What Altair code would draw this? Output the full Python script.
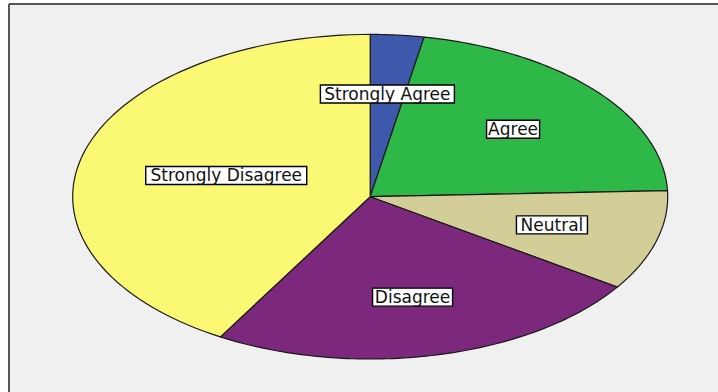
import altair as alt
import pandas as pd

# ---- data (percent of responses) ----
categories = ["Strongly Agree", "Agree", "Neutral", "Disagree", "Strongly Disagree"]
values = [2.9, 21.5, 10.0, 24.0, 41.6]
colors = ["#3E58AC", "#2EB848", "#D3CE97", "#7C287D", "#FBF873"]

df = pd.DataFrame({"cat": categories, "val": values, "ord": list(range(len(categories)))})

# ---- layout ----
PAD_L, PAD_T = 9, 4
W, H = 718 - PAD_L, 392 - PAD_T
CX, CY = 370.2 - PAD_L, 196.7 - PAD_T      # centre of the (stretched) pie inside the view
RX, RY = 297.5, 162.3                       # pixel radii
xdom = [-CX / RX, (W - CX) / RX]
ydom = [-(H - CY) / RY, CY / RY]
N = 80  # arc resolution

xs = alt.Scale(domain=xdom, nice=False, zero=False)
ys = alt.Scale(domain=ydom, nice=False, zero=False)

base = alt.Chart(df).transform_window(
    cum="sum(val)", sort=[alt.SortField("ord", order="ascending")], frame=[None, 0]
).transform_joinaggregate(
    total="sum(val)"
).transform_calculate(
    a0="(datum.cum - datum.val) / datum.total * 2 * PI",
    a1="datum.cum / datum.total * 2 * PI",
)

slices = base.transform_calculate(
    steps=f"sequence(-1, {N + 2})"
).transform_flatten(["steps"]).transform_calculate(
    t=f"clamp(datum.steps, 0, {N}) / {N}",
    rad=f"(datum.steps < 0 || datum.steps > {N}) ? 0 : 1",
).transform_calculate(
    ang="datum.a0 + (datum.a1 - datum.a0) * datum.t"
).transform_calculate(
    px="datum.rad * sin(datum.ang)",
    py="datum.rad * cos(datum.ang)",
).mark_line(stroke="#1a1a1a", strokeWidth=1.2, strokeJoin="round").encode(
    x=alt.X("px:Q", scale=xs, axis=None),
    y=alt.Y("py:Q", scale=ys, axis=None),
    fill=alt.Fill("cat:N", scale=alt.Scale(domain=categories, range=colors), legend=None),
    order=alt.Order("steps:Q"),
)

CHARW = 9.0
labels_base = base.transform_calculate(
    mid="(datum.a0 + datum.a1) / 2",
    hw=f"(length(datum.cat) * {CHARW} / 2 + 4) / {RX}",
    hh=f"9 / {RY}",
).transform_calculate(
    r="min(0.635, 0.88 - 1.45 * datum.hw * abs(sin(datum.mid)))"
).transform_calculate(
    lx="datum.r * sin(datum.mid)",
    ly="datum.r * cos(datum.mid)",
).transform_calculate(
    bx0="datum.lx - datum.hw",
    bx1="datum.lx + datum.hw",
    by0="datum.ly - datum.hh",
    by1="datum.ly + datum.hh",
)

boxes = labels_base.mark_rect(fill="white", stroke="black", strokeWidth=1.4).encode(
    x=alt.X("bx0:Q", scale=xs, axis=None),
    x2="bx1:Q",
    y=alt.Y("by0:Q", scale=ys, axis=None),
    y2="by1:Q",
)

texts = labels_base.mark_text(
    font="DejaVu Sans", fontSize=17, color="#111111", align="center", baseline="middle", dy=1
).encode(
    x=alt.X("lx:Q", scale=xs, axis=None),
    y=alt.Y("ly:Q", scale=ys, axis=None),
    text="cat:N",
)

border_left = alt.Chart(df).mark_rule(color="#555555", strokeWidth=2).encode(
    x=alt.value(0), y=alt.value(0), y2=alt.value(H)
)
border_top = alt.Chart(df).mark_rule(color="#555555", strokeWidth=2).encode(
    x=alt.value(0), x2=alt.value(W), y=alt.value(0)
)

chart = alt.layer(slices, boxes, texts, border_left, border_top).properties(
    width=W,
    height=H,
    autosize=alt.AutoSizeParams(type="none"),
    padding={"left": PAD_L, "top": PAD_T, "right": 0, "bottom": 0},
    background="white",
).configure_view(fill="#F0F0F0", strokeWidth=0)

chart.save("out.html", embed_options={"renderer": "svg", "actions": False})
